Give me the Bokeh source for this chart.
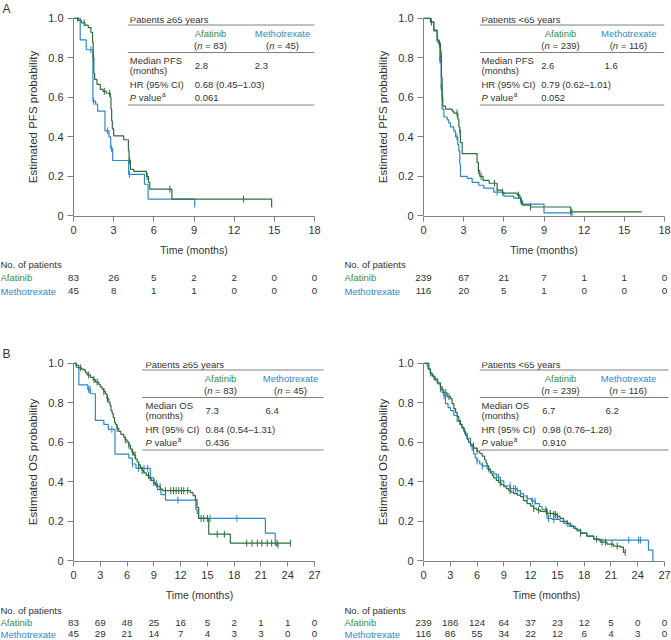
import numpy as np
from bokeh.plotting import figure
from bokeh.models import Label, Arrow, Range1d, FixedTicker, Title
from bokeh.layouts import column, row
from bokeh.embed import file_html
from bokeh.resources import INLINE

FONT = "Liberation Sans"
GREEN = "#2f6e3b"
GREEN_T = "#3b8a3f"
BLUE = "#2c88ca"
BLUE_T = "#2e8bcb"
TXT = "#333333"
AX = "#808080"

# ---------------- data ----------------
# PFS, patients >=65 years
pfs65_afa_t = [0, 0.35, 0.6, 0.85, 1.1, 1.3, 1.42, 1.47, 1.52, 1.58, 1.75, 2.0, 2.2, 2.45, 2.75, 2.8, 2.85,
               2.9, 3.0, 3.75, 4.1, 4.15, 4.25, 4.5, 5.45, 5.6, 5.7, 7.35, 14.8]
pfs65_afa_s = [1.0, 0.988, 0.976, 0.964, 0.952, 0.928, 0.88, 0.80, 0.72, 0.69, 0.665, 0.64, 0.63, 0.62, 0.60,
               0.54, 0.48, 0.44, 0.405, 0.385, 0.33, 0.28, 0.235, 0.225, 0.20, 0.17, 0.135, 0.085, 0.043]
pfs65_afa_end = 14.8
pfs65_afa_cens = [0.3, 0.8, 1.5, 2.3, 2.7, 4.2, 5.5, 7.2, 12.7]

pfs65_met_t = [0, 0.5, 0.95, 1.45, 1.65, 1.8, 2.35, 2.65, 2.78, 2.93, 4.12, 5.3, 5.57, 9.05]
pfs65_met_s = [1.0, 0.89, 0.84, 0.58, 0.565, 0.53, 0.43, 0.40, 0.34, 0.28, 0.21, 0.16, 0.085, 0.043]
pfs65_met_end = 9.05
pfs65_met_cens = [1.3, 1.5, 2.55, 2.85, 4.18]

# PFS, patients <65 years
pfsu_afa_t = [0, 0.52, 0.77, 1.02, 1.14, 1.27, 1.34, 1.39, 1.44, 1.64, 2.14, 2.26, 2.56, 2.64, 2.71, 2.76, 2.89,
              4.0, 4.1, 4.2, 4.45, 4.9, 5.5, 5.9, 7.0, 7.2, 7.3, 7.4, 8.0, 11.0]
pfsu_afa_s = [1.0, 0.98, 0.935, 0.89, 0.87, 0.82, 0.70, 0.60, 0.555, 0.54, 0.53, 0.52, 0.49, 0.45, 0.42, 0.37,
              0.315, 0.27, 0.23, 0.20, 0.18, 0.165, 0.13, 0.115, 0.105, 0.09, 0.075, 0.055, 0.045, 0.02]
pfsu_afa_end = 16.3
pfsu_afa_cens = [0.6, 1.2, 1.3, 1.4, 2.5, 2.75, 4.1, 4.3, 5.3, 7.1, 7.3, 8.0, 11.0]

pfsu_met_t = [0, 0.52, 0.77, 1.02, 1.22, 1.32, 1.39, 1.52, 1.77, 1.89, 2.01, 2.26, 2.39, 2.56, 2.64, 2.71, 2.76,
              3.26, 3.63, 4.13, 4.5, 5.25, 6.0, 6.74, 7.24, 7.31, 9.0]
pfsu_met_s = [1.0, 0.98, 0.94, 0.88, 0.79, 0.65, 0.54, 0.50, 0.485, 0.47, 0.45, 0.43, 0.40, 0.36, 0.33, 0.26, 0.20,
              0.19, 0.17, 0.155, 0.14, 0.12, 0.10, 0.09, 0.07, 0.06, 0.015]
pfsu_met_end = 11.1
pfsu_met_cens = [1.22, 1.27, 1.32, 1.36, 2.5, 5.5, 5.9, 11.1]

# OS, patients >=65 years
os65_afa_t = [0, 0.3, 0.6, 0.9, 1.16, 1.35, 1.53, 1.9, 2.2, 2.46, 2.84, 3.0, 3.2, 3.4, 3.58, 3.75, 3.96, 4.1, 4.2,
              4.33, 4.45, 4.6, 4.7, 4.85, 5.07, 5.3, 5.63, 5.8, 6.0, 6.2, 6.38, 6.55, 6.75, 6.95, 7.13, 7.3, 7.5,
              7.7, 7.87, 8.15, 8.43, 8.7, 9.0, 9.2, 9.44, 9.74, 10.0, 13.1, 13.4, 13.66, 13.84, 14.03, 15.15, 17.57]
os65_afa_s = [1.0, 0.988, 0.976, 0.97, 0.964, 0.952, 0.94, 0.928, 0.916, 0.904, 0.892, 0.88, 0.868, 0.856, 0.844,
              0.82, 0.80, 0.785, 0.76, 0.745, 0.725, 0.70, 0.69, 0.67, 0.655, 0.64, 0.625, 0.612, 0.60, 0.585,
              0.565, 0.55, 0.535, 0.515, 0.50, 0.485, 0.47, 0.457, 0.445, 0.432, 0.42, 0.407, 0.395, 0.383, 0.375,
              0.363, 0.355, 0.345, 0.33, 0.31, 0.27, 0.215, 0.135, 0.09]
os65_afa_end = 24.3
os65_afa_cens = [0.8, 1.7, 2.3, 2.65, 3.4, 3.8, 4.9, 5.8, 6.2, 6.6, 6.9, 7.3, 7.7, 8.4, 9.0, 9.7, 10.3, 10.9, 11.2,
                 11.5, 11.8, 12.1, 12.35, 12.8, 14.3, 14.6, 15.0, 16.1, 16.9, 19.4, 20.0, 20.6, 21.1, 21.7, 22.2,
                 22.8, 24.3]

os65_met_t = [0, 0.3, 0.6, 1.6, 1.9, 2.45, 3.4, 3.9, 4.65, 6.2, 6.6, 7.0, 8.6, 9.0, 9.4, 9.8, 10.3, 13.7, 13.85,
              14.0, 21.5, 22.6]
os65_met_s = [1.0, 0.978, 0.89, 0.867, 0.845, 0.71, 0.69, 0.665, 0.54, 0.52, 0.49, 0.468, 0.42, 0.39, 0.36, 0.335,
              0.307, 0.26, 0.24, 0.215, 0.14, 0.08]
os65_met_end = 23.0
os65_met_cens = [1.7, 1.85, 4.3, 6.6, 7.3, 7.9, 8.3, 8.6, 9.3, 11.7, 15.3, 18.3, 22.9]

# OS, patients <65 years
osu_afa_t = [0, 0.6, 0.75, 0.97, 1.2, 1.53, 1.9, 2.1, 2.28, 2.65, 3.02, 3.2, 3.4, 3.6, 3.77, 3.95, 4.14, 4.3, 4.51,
             4.7, 4.89, 5.05, 5.26, 5.45, 5.63, 6.0, 6.3, 6.57, 6.85, 7.0, 7.13, 7.3, 7.5, 7.7, 7.87, 8.15, 8.43,
             8.7, 9.0, 9.3, 9.55, 9.8, 10.1, 10.5, 10.86, 11.2, 11.6, 12.0, 12.35, 12.7, 13.1, 13.84, 14.6, 15.0,
             15.3, 15.7, 16.1, 16.5, 16.8, 17.2, 17.6, 18.3, 19.07, 19.8, 20.56, 21.3, 22.05, 22.4]
osu_afa_s = [1.0, 0.97, 0.95, 0.935, 0.915, 0.90, 0.88, 0.865, 0.85, 0.83, 0.82, 0.795, 0.77, 0.75, 0.73, 0.71,
             0.69, 0.675, 0.655, 0.635, 0.615, 0.60, 0.59, 0.58, 0.57, 0.555, 0.543, 0.53, 0.51, 0.495, 0.48, 0.46,
             0.445, 0.432, 0.42, 0.407, 0.395, 0.385, 0.375, 0.365, 0.355, 0.347, 0.34, 0.333, 0.325, 0.305, 0.29,
             0.277, 0.265, 0.257, 0.25, 0.24, 0.235, 0.225, 0.215, 0.2, 0.19, 0.177, 0.165, 0.152, 0.14, 0.125,
             0.11, 0.095, 0.085, 0.075, 0.07, 0.043]
osu_afa_end = 22.6
osu_afa_cens = [0.8, 1.9, 2.5, 2.85, 5.6, 6.0, 8.6, 9.7, 12.35, 12.9, 13.8, 14.2, 14.6, 14.8, 15.0, 17.6, 19.4,
                20.0, 20.4, 21.1, 21.7, 22.6]

osu_met_t = [0, 0.5, 0.78, 1.05, 1.34, 1.6, 1.9, 2.1, 2.28, 2.46, 2.75, 3.02, 3.4, 3.77, 4.05, 4.33, 4.6, 4.89,
             5.26, 5.45, 5.63, 5.8, 6.0, 6.3, 6.57, 7.13, 7.5, 7.87, 8.2, 8.62, 9.0, 9.74, 10.5, 10.86, 11.2, 11.6,
             12.1, 12.54, 13.0, 13.28, 13.84, 14.4, 15.3, 15.7, 16.3, 17.0, 17.6, 18.3, 19.07, 19.6, 25.2, 25.7]
osu_met_s = [1.0, 0.97, 0.945, 0.93, 0.92, 0.895, 0.87, 0.85, 0.835, 0.795, 0.775, 0.76, 0.735, 0.705, 0.69, 0.67,
             0.645, 0.62, 0.58, 0.56, 0.54, 0.52, 0.505, 0.49, 0.48, 0.465, 0.452, 0.44, 0.423, 0.405, 0.38, 0.365,
             0.355, 0.34, 0.328, 0.315, 0.302, 0.29, 0.275, 0.26, 0.215, 0.21, 0.20, 0.19, 0.175, 0.16, 0.14, 0.125,
             0.11, 0.105, 0.055, 0.0]
osu_met_end = 25.7
osu_met_cens = [0.4, 1.9, 2.3, 6.0, 6.6, 7.3, 8.4, 9.7, 10.1, 10.3, 10.5, 10.86, 11.6, 12.2, 12.5, 13.7, 14.0,
                14.6, 16.1, 23.0, 24.1, 24.3]

# axes
pfs_xticks = [0, 3, 6, 9, 12, 15, 18]
os_xticks = [0, 3, 6, 9, 12, 15, 18, 21, 24, 27]
y_ticks = [0, 0.2, 0.4, 0.6, 0.8, 1.0]
y_tick_labels = ["0", "0.2", "0.4", "0.6", "0.8", "1.0"]

# number at risk
risk_pfs65_afa = [83, 26, 5, 2, 2, 0, 0]
risk_pfs65_met = [45, 8, 1, 1, 0, 0, 0]
risk_pfsu_afa = [239, 67, 21, 7, 1, 1, 0]
risk_pfsu_met = [116, 20, 5, 1, 0, 0, 0]
risk_os65_afa = [83, 69, 48, 25, 16, 5, 2, 1, 1, 0]
risk_os65_met = [45, 29, 21, 14, 7, 4, 3, 3, 0, 0]
risk_osu_afa = [239, 186, 124, 64, 37, 23, 12, 5, 0, 0]
risk_osu_met = [116, 86, 55, 34, 22, 12, 6, 4, 3, 0]

# inset table texts
tab_titles = ["Patients \u226565 years", "Patients <65 years", "Patients \u226565 years", "Patients <65 years"]
tab_n_afa = ["83", "239", "83", "239"]
tab_n_met = ["45", "116", "45", "116"]
tab_endpoint = ["Median PFS", "Median PFS", "Median OS", "Median OS"]
tab_med_afa = ["2.8", "2.6", "7.3", "6.7"]
tab_med_met = ["2.3", "1.6", "6.4", "6.2"]
tab_hr = ["0.68 (0.45\u20131.03)", "0.79 (0.62\u20131.01)", "0.84 (0.54\u20131.31)", "0.98 (0.76\u20131.28)"]
tab_p = ["0.061", "0.052", "0.436", "0.910"]

# ---------------- helpers ----------------
AW = {'(': 0.333, ')': 0.333, 'n': 0.556, '=': 0.584, ' ': 0.278, 'P': 0.667, 'v': 0.5, 'a': 0.556,
      'l': 0.222, 'u': 0.556, 'e': 0.556}


def tw(s, fs):
    return sum(AW.get(ch, 0.556) for ch in s) * fs


def lab(p, x, y, text, size=9.5, color=TXT, align="left", style="normal", xu="screen", yu="screen"):
    p.add_layout(Label(x=x, y=y, x_units=xu, y_units=yu, text=text, text_font=FONT,
                       text_font_size=f"{size}px", text_color=color, text_align=align,
                       text_baseline="middle", text_font_style=style))


def rule(p, x0, x1, y):
    p.add_layout(Arrow(x_start=x0, y_start=y, x_end=x1, y_end=y, start_units="screen", end_units="screen",
                       start=None, end=None, line_color=AX, line_width=1))


def censor_y(t, s, c):
    idx = np.searchsorted(np.array(t), np.array(c), side="right") - 1
    return [s[i] for i in idx]


FH = 201  # frame height (y from 0 to 1)
FW = 241  # width of the 0..xmax span
TOP = 17
BOT = 40


def make_panel(left, extra_r, xmax, xticks, ylabel, curves, idx, cols, letter=None):
    if left:
        w, bl, br = 335, 73, 21
    else:
        w, bl, br = 336, 88, 7
    br -= extra_r
    ppu = FW / xmax
    h = TOP + FH + BOT
    p = figure(width=w, height=h, output_backend="svg", toolbar_location=None,
               x_range=Range1d(0, xmax + extra_r / ppu), y_range=Range1d(-0.003, 1.003),
               min_border_left=bl, min_border_right=br, min_border_top=TOP,
               min_border_bottom=BOT)
    p.outline_line_color = None
    p.xgrid.visible = False
    p.ygrid.visible = False
    p.background_fill_color = "white"
    p.border_fill_color = "white"

    for ax in (p.xaxis[0], p.yaxis[0]):
        ax.axis_line_color = AX
        ax.major_tick_line_color = AX
        ax.minor_tick_line_color = None
        ax.major_tick_in = 0
        ax.major_label_text_font = FONT
        ax.major_label_text_font_size = "11px"
        ax.major_label_text_color = TXT
        ax.axis_label_text_font = FONT
        ax.axis_label_text_font_style = "normal"
        ax.axis_label_text_color = TXT
    p.xaxis.ticker = FixedTicker(ticks=xticks)
    p.xaxis.bounds = (0, xmax)
    p.xaxis.major_tick_out = 5
    p.xaxis.major_label_standoff = 4
    p.xaxis.axis_label = "Time (months)"
    p.xaxis.axis_label_text_font_size = "10.5px"
    p.xaxis.axis_label_standoff = 7
    p.yaxis.ticker = FixedTicker(ticks=y_ticks)
    p.yaxis.major_label_overrides = {v: s for v, s in zip(y_ticks, y_tick_labels)}
    p.yaxis.bounds = (0, 1)
    p.yaxis.major_tick_out = 6
    p.yaxis.major_label_standoff = 4
    p.yaxis.axis_label = ylabel
    p.yaxis.axis_label_text_font_size = "11.5px"
    p.yaxis.axis_label_standoff = 6

    if letter:
        p.add_layout(Title(text=letter, align="left", offset=-71, standoff=0, vertical_align="top",
                           text_font=FONT, text_font_size="12px", text_font_style="normal",
                           text_color=TXT), "above")

    # curves: methotrexate first, afatinib on top
    for (t, s, end, cens, col) in curves:
        x = list(t) + [end]
        y = list(s) + [s[-1]]
        p.step(x, y, mode="after", line_color=col, line_width=1.2)
        p.scatter(cens, censor_y(t, s, cens), marker="dash", angle=np.pi / 2, size=7,
                  line_color=col, line_width=1)

    # inset table
    title_x, rule_x0, rule_x1, afa_c, met_c, v1, v2 = cols

    def yy(off):
        return FH - off

    lab(p, title_x, yy(4), tab_titles[idx])
    rule(p, rule_x0, rule_x1, yy(9.5))
    lab(p, afa_c, yy(18), "Afatinib", color=GREEN_T, align="center")
    lab(p, met_c, yy(18), "Methotrexate", color=BLUE_T, align="center")
    for c, nval in ((afa_c, tab_n_afa[idx]), (met_c, tab_n_met[idx])):
        full = "(n = " + nval + ")"
        x0 = c - tw(full, 9.5) / 2
        lab(p, x0, yy(29.5), "(")
        lab(p, x0 + tw("(", 9.5), yy(29.5), "n", style="italic")
        lab(p, x0 + tw("(n ", 9.5), yy(29.5), "= " + nval + ")")
    rule(p, rule_x0, rule_x1, yy(37))
    lab(p, title_x, yy(45), tab_endpoint[idx])
    lab(p, title_x, yy(55), "(months)")
    lab(p, v1, yy(50), tab_med_afa[idx])
    lab(p, v2, yy(50), tab_med_met[idx])
    lab(p, title_x, yy(69), "HR (95% CI)")
    lab(p, v1, yy(69), tab_hr[idx])
    lab(p, title_x, yy(82), "P", style="italic")
    lab(p, title_x + tw("P ", 9.5), yy(82), "value")
    lab(p, title_x + tw("P value", 9.5) + 0.6, yy(82) + 3, "a", size=6.5)
    lab(p, v1, yy(82), tab_p[idx])
    rule(p, rule_x0, rule_x1, yy(89.5))
    return p


def make_risk(left, xmax, xticks, risk_afa, risk_met, h, rows_y):
    if left:
        w, bl, br = 335, 73, 21
    else:
        w, bl, br = 336, 88, 7
    ppu = FW / xmax
    p = figure(width=w, height=h, output_backend="svg", toolbar_location=None,
               x_range=Range1d(-bl / ppu, xmax + br / ppu), y_range=Range1d(0, 1),
               x_axis_location=None, y_axis_location=None, min_border=0)
    p.outline_line_color = None
    p.xgrid.visible = False
    p.ygrid.visible = False
    rx = 0 if left else 9
    lab(p, rx, rows_y[0], "No. of patients")
    lab(p, rx, rows_y[1], "Afatinib", color=GREEN_T)
    lab(p, rx, rows_y[2], "Methotrexate", color=BLUE_T)
    for xv, a, m in zip(xticks, risk_afa, risk_met):
        lab(p, xv, rows_y[1], str(a), size=9.8, align="center", xu="data")
        lab(p, xv, rows_y[2], str(m), size=9.8, align="center", xu="data")
    return p


colsA_L = [56.3, 54.3, 241, 137, 209, 121.3, 181.3]
colsA_R = [58, 56.3, 241, 137, 205.3, 117.7, 181]
colsB_L = [72, 68.7, 250, 147, 217, 132, 192]
colsB_R = [58, 56.3, 245, 137, 205, 118.7, 182]

pA1 = make_panel(True, 0, 18, pfs_xticks, "Estimated PFS probability",
                 [(pfs65_met_t, pfs65_met_s, pfs65_met_end, pfs65_met_cens, BLUE),
                  (pfs65_afa_t, pfs65_afa_s, pfs65_afa_end, pfs65_afa_cens, GREEN)],
                 0, colsA_L, letter="A")
pA2 = make_panel(False, 0, 18, pfs_xticks, "Estimated PFS probability",
                 [(pfsu_met_t, pfsu_met_s, pfsu_met_end, pfsu_met_cens, BLUE),
                  (pfsu_afa_t, pfsu_afa_s, pfsu_afa_end, pfsu_afa_cens, GREEN)],
                 1, colsA_R)
pB1 = make_panel(True, 11, 27, os_xticks, "Estimated OS probability",
                 [(os65_met_t, os65_met_s, os65_met_end, os65_met_cens, BLUE),
                  (os65_afa_t, os65_afa_s, os65_afa_end, os65_afa_cens, GREEN)],
                 2, colsB_L, letter="B")
pB2 = make_panel(False, 5, 27, os_xticks, "Estimated OS probability",
                 [(osu_met_t, osu_met_s, osu_met_end, osu_met_cens, BLUE),
                  (osu_afa_t, osu_afa_s, osu_afa_end, osu_afa_cens, GREEN)],
                 3, colsB_R)

RA_H = 87
RB_H = 37
rA1 = make_risk(True, 18, pfs_xticks, risk_pfs65_afa, risk_pfs65_met, RA_H,
                [RA_H - 6.3, RA_H - 19.3, RA_H - 32.7])
rA2 = make_risk(False, 18, pfs_xticks, risk_pfsu_afa, risk_pfsu_met, RA_H,
                [RA_H - 6.3, RA_H - 19.3, RA_H - 32.7])
rB1 = make_risk(True, 27, os_xticks, risk_os65_afa, risk_os65_met, RB_H,
                [RB_H - 6.7, RB_H - 19, RB_H - 30.7])
rB2 = make_risk(False, 27, os_xticks, risk_osu_afa, risk_osu_met, RB_H,
                [RB_H - 6.7, RB_H - 19, RB_H - 30.7])

layout = column(row(pA1, pA2), row(rA1, rA2), row(pB1, pB2), row(rB1, rB2))
open("out.html", "w").write(file_html(layout, INLINE))
